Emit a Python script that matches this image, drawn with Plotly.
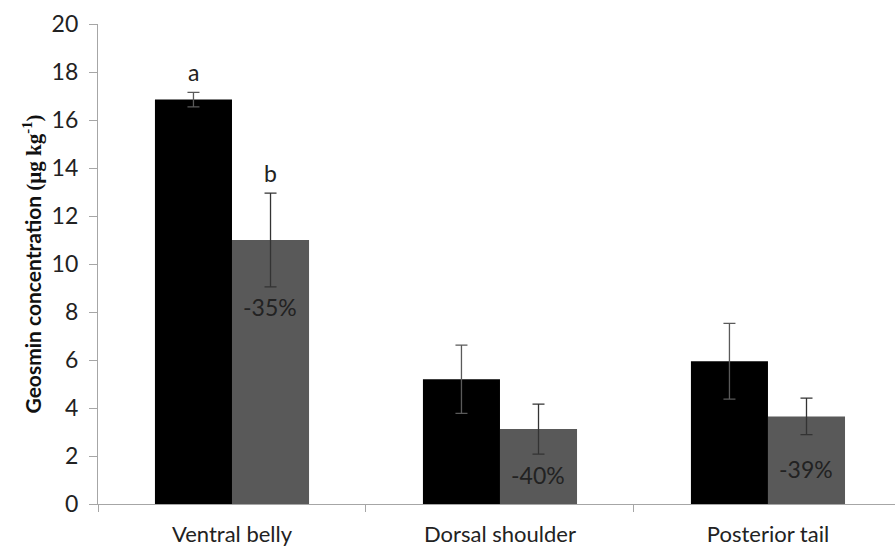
import plotly.graph_objects as go

categories = ["Ventral belly", "Dorsal shoulder", "Posterior tail"]
black_vals = [16.85, 5.2, 5.95]
black_err = [0.3, 1.42, 1.58]
gray_vals = [11.0, 3.12, 3.65]
gray_err = [1.95, 1.04, 0.76]
letters = ["a", "b"]
letter_y = [18.0, 13.8]
pct_labels = ["-35%", "-40%", "-39%"]
pct_y = [8.2, 1.2, 1.45]

FONT = "Lato"
err_color = "#5a5a5a"

fig = go.Figure()
fig.add_trace(go.Bar(x=categories, y=black_vals, marker=dict(color="#000000", line=dict(width=0)),
                     error_y=dict(type="data", array=black_err, color=err_color, thickness=1.3, width=6),
                     showlegend=False))
fig.add_trace(go.Bar(x=categories, y=gray_vals, marker=dict(color="#595959", line=dict(width=0)),
                     error_y=dict(type="data", array=gray_err, color="#333333", thickness=1.3, width=6),
                     showlegend=False))

bar_px = 38.5
fig.add_annotation(x=categories[0], y=letter_y[0], text=letters[0], showarrow=False, xshift=-bar_px,
                   font=dict(family=FONT, size=23, color="#222"))
fig.add_annotation(x=categories[0], y=letter_y[1], text=letters[1], showarrow=False, xshift=bar_px,
                   font=dict(family=FONT, size=23, color="#222"))
for c, t, yy in zip(categories, pct_labels, pct_y):
    fig.add_annotation(x=c, y=yy, text=t, showarrow=False, xshift=bar_px,
                       font=dict(family=FONT, size=23, color="#222"))

fig.update_layout(
    width=895, height=550,
    margin=dict(l=98, r=0, t=24, b=46),
    plot_bgcolor="white", paper_bgcolor="white",
    barmode="group", bargap=0.425, bargroupgap=0,
    font=dict(family=FONT, size=22, color="#222"),
    xaxis=dict(range=[-0.5, 2.474], showline=True, linecolor="#a6a6a6", linewidth=1.3,
               ticks="outside", tickcolor="#a6a6a6", ticklen=7, tickson="boundaries",
               ticklabelstandoff=10, tickfont=dict(family=FONT, size=22, color="#222"),
               showgrid=False, zeroline=False),
    yaxis=dict(range=[0, 20], dtick=2, showline=True, linecolor="#a6a6a6", linewidth=1.3,
               ticks="outside", tickcolor="#a6a6a6", ticklen=8, ticklabelstandoff=6,
               tickfont=dict(family=FONT, size=23, color="#222"),
               showgrid=False, zeroline=False,
               title=dict(text="<b>Geosmin concentration </b><span style=\"font-family:'Liberation Serif'\"><b>(µg kg<sup>-1</sup>)</b></span>",
                          font=dict(family=FONT, size=21, color="#111"), standoff=4)),
)

fig.write_html("out.html")
